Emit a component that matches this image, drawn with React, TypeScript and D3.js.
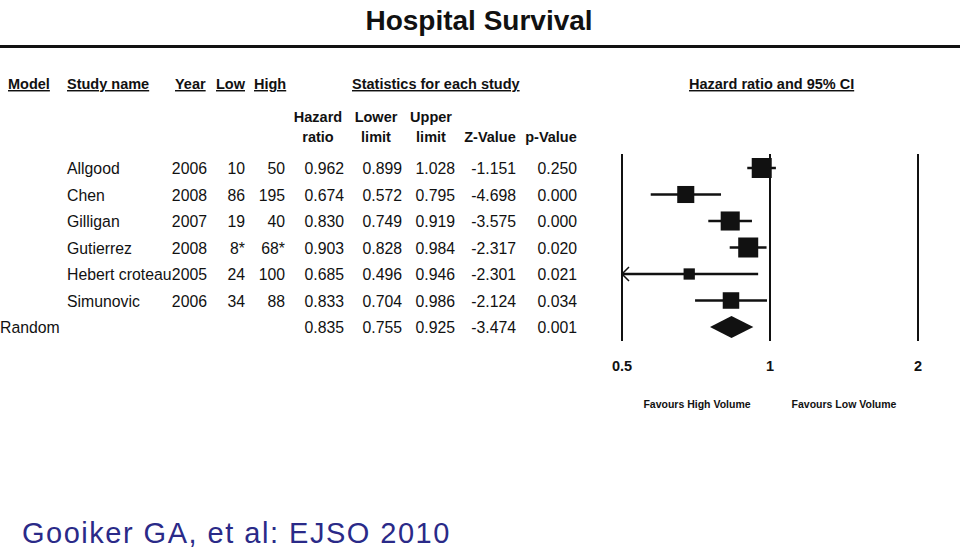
import React from "react";
import * as d3 from "d3";

const studies = ["Allgood", "Chen", "Gilligan", "Gutierrez", "Hebert croteau", "Simunovic"];
const years = ["2006", "2008", "2007", "2008", "2005", "2006"];
const lowVol = ["10", "86", "19", "8*", "24", "34"];
const highVol = ["50", "195", "40", "68*", "100", "88"];
const hazard = [0.962, 0.674, 0.83, 0.903, 0.685, 0.833];
const lowerLimit = [0.899, 0.572, 0.749, 0.828, 0.496, 0.704];
const upperLimit = [1.028, 0.795, 0.919, 0.984, 0.946, 0.986];
const zValue = [-1.151, -4.698, -3.575, -2.317, -2.301, -2.124];
const pValue = [0.25, 0.0, 0.0, 0.02, 0.021, 0.034];
const weights = [22, 16, 20, 22, 7, 15];

const summaryLabel = "Random";
const summary = { hr: 0.835, lower: 0.755, upper: 0.925, z: -3.474, p: 0.001 };

const axisTicks = [0.5, 1, 2];
const favourLabels = ["Favours High Volume", "Favours Low Volume"];

const W = 960;
const H = 551;
const FONT = "'Liberation Sans', Arial, sans-serif";
const INK = "#111";

const locale = d3.formatLocale({ decimal: ".", thousands: ",", grouping: [3], currency: ["", ""], minus: "-" });
const f3 = locale.format(".3f");

export default function App() {
  const x = d3.scaleLog().base(2).domain([0.5, 2]).range([622, 918]);
  const rows = d3.range(studies.length + 1);
  const y = d3.scalePoint<number>().domain(rows).range([168, 327]);
  const size = d3.scaleSqrt().domain([0, d3.max(weights)!]).range([0, 20]);

  const colX = { name: 67, year: 207, low: 245, high: 285, hr: 344, lo: 402, up: 455, z: 516, p: 577 };

  const dataText = (txt: string, xx: number, yy: number, anchor = "end") => (
    <text
      transform={`translate(${xx},${yy + 6}) scale(0.93,1)`}
      textAnchor={anchor}
      fontSize={17}
      fill={INK}
      fontFamily={FONT}
    >
      {txt}
    </text>
  );

  const header = (txt: string, xx: number) => (
    <text x={xx} y={89} fontSize={14.5} fontWeight="bold" fill={INK} fontFamily={FONT} textDecoration="underline">
      {txt}
    </text>
  );

  const sub = (l1: string, l2: string, cx: number) => (
    <g fontSize={14.5} fontWeight="bold" fill={INK} fontFamily={FONT} textAnchor="middle">
      {l1 && <text x={cx} y={122}>{l1}</text>}
      <text x={cx} y={142}>{l2}</text>
    </g>
  );

  const lineTop = 154;
  const lineBottom = 341;

  return (
    <svg width={W} height={H} style={{ position: "absolute", left: 0, top: 0, background: "#fff" }}>
      <rect width={W} height={H} fill="#fff" />
      <text x={479} y={30} textAnchor="middle" fontSize={28} fontWeight="bold" fill={INK} fontFamily={FONT}>
        Hospital Survival
      </text>
      <rect x={0} y={45} width={W} height={3} fill={INK} />

      {header("Model", 8)}
      {header("Study name", 67)}
      {header("Year", 175)}
      {header("Low", 216)}
      {header("High", 254)}
      {header("Statistics for each study", 352)}
      {header("Hazard ratio and 95% CI", 689)}

      {sub("Hazard", "ratio", 318)}
      {sub("Lower", "limit", 376)}
      {sub("Upper", "limit", 431)}
      {sub("", "Z-Value", 490)}
      {sub("", "p-Value", 551)}

      {studies.map((s, i) => (
        <g key={s}>
          {dataText(s, colX.name, y(i)!, "start")}
          {dataText(years[i], colX.year, y(i)!)}
          {dataText(lowVol[i], colX.low, y(i)!)}
          {dataText(highVol[i], colX.high, y(i)!)}
          {dataText(f3(hazard[i]), colX.hr, y(i)!)}
          {dataText(f3(lowerLimit[i]), colX.lo, y(i)!)}
          {dataText(f3(upperLimit[i]), colX.up, y(i)!)}
          {dataText(f3(zValue[i]), colX.z, y(i)!)}
          {dataText(f3(pValue[i]), colX.p, y(i)!)}
        </g>
      ))}
      {(() => {
        const yy = y(studies.length)!;
        return (
          <g>
            {dataText(summaryLabel, 0, yy, "start")}
            {dataText(f3(summary.hr), colX.hr, yy)}
            {dataText(f3(summary.lower), colX.lo, yy)}
            {dataText(f3(summary.upper), colX.up, yy)}
            {dataText(f3(summary.z), colX.z, yy)}
            {dataText(f3(summary.p), colX.p, yy)}
          </g>
        );
      })()}

      {axisTicks.map((t) => (
        <line key={t} x1={x(t)} x2={x(t)} y1={lineTop} y2={lineBottom} stroke={INK} strokeWidth={2} />
      ))}

      {studies.map((s, i) => {
        const yy = y(i)!;
        const clippedLow = lowerLimit[i] < 0.5;
        const x1 = x(Math.max(lowerLimit[i], 0.5));
        const x2 = x(Math.min(upperLimit[i], 2));
        const sz = size(weights[i]);
        return (
          <g key={s}>
            <line x1={x1} x2={x2} y1={yy} y2={yy} stroke={INK} strokeWidth={2.5} />
            {clippedLow && (
              <path d={`M${x1 + 7},${yy - 7} L${x1},${yy} L${x1 + 7},${yy + 7}`} fill="none" stroke={INK} strokeWidth={1.5} />
            )}
            <rect x={x(hazard[i]) - sz / 2} y={yy - sz / 2} width={sz} height={sz} fill={INK} />
          </g>
        );
      })}

      {(() => {
        const yy = y(studies.length)!;
        const h = 11;
        return (
          <path
            d={`M${x(summary.lower)},${yy} L${x(summary.hr)},${yy - h} L${x(summary.upper)},${yy} L${x(summary.hr)},${yy + h} Z`}
            fill={INK}
          />
        );
      })()}

      {axisTicks.map((t) => (
        <text key={t} x={x(t)} y={371} textAnchor="middle" fontSize={14.5} fontWeight="bold" fill={INK} fontFamily={FONT}>
          {String(t)}
        </text>
      ))}
      <text x={697} y={408} textAnchor="middle" fontSize={10.5} fontWeight="bold" fill={INK} fontFamily={FONT}>
        {favourLabels[0]}
      </text>
      <text x={844} y={408} textAnchor="middle" fontSize={10.5} fontWeight="bold" fill={INK} fontFamily={FONT}>
        {favourLabels[1]}
      </text>

      <text x={22} y={543} fontSize={29} letterSpacing={1.5} fill="#2a2a88" fontFamily={FONT}>
        Gooiker GA, et al: EJSO 2010
      </text>
    </svg>
  );
}
